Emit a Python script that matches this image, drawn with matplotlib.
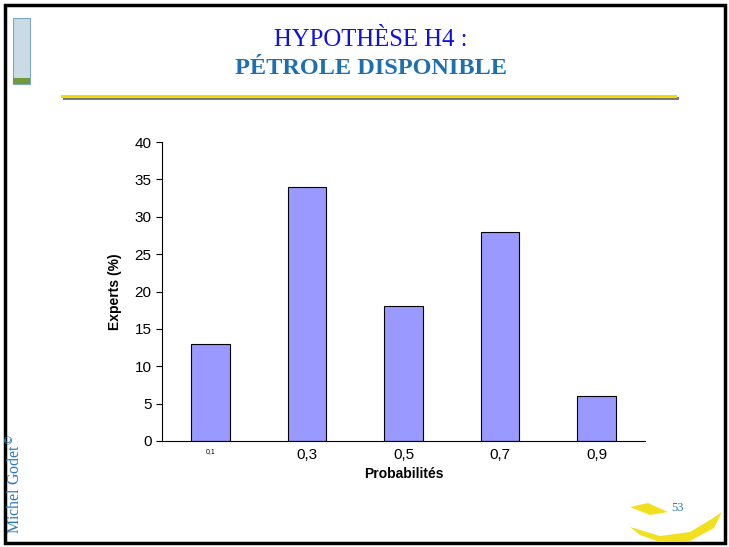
import matplotlib
matplotlib.use("Agg")
import matplotlib.pyplot as plt
from matplotlib.patches import Rectangle, Polygon

# donnees
categories = ["0,1", "0,3", "0,5", "0,7", "0,9"]
experts = [13, 34, 18, 28, 6]
yticks = [0, 5, 10, 15, 20, 25, 30, 35, 40]

W, H = 729, 547
fig = plt.figure(figsize=(W / 100, H / 100), dpi=100)

def fx(px):
    return px / W

def fy(py):
    return 1 - py / H

# cadre de la diapo
fig.add_artist(Rectangle((fx(5), fy(543)), fx(720), 538 / H, fill=False,
                         edgecolor="black", linewidth=2.5, transform=fig.transFigure))

# logo en haut a gauche
fig.add_artist(Rectangle((fx(13), fy(84)), fx(17), 66 / H, facecolor="#c9dbe6",
                         edgecolor="#7fa7bf", linewidth=0.8, transform=fig.transFigure))
fig.add_artist(Rectangle((fx(13), fy(84)), fx(17), 6 / H, facecolor="#6f9a3a",
                         edgecolor="none", transform=fig.transFigure))

# titre
fig.text(fx(371), fy(40), "HYPOTHÈSE H4 :", ha="center", va="center",
         family="Liberation Serif", fontsize=17.8, color="#1010e0")
fig.text(fx(371), fy(68), "PÉTROLE DISPONIBLE", ha="center", va="center",
         family="Liberation Serif", fontsize=17.5, fontweight="bold", color="#1f6fb0")

# ligne jaune sous le titre
fig.add_artist(Rectangle((fx(63), fy(100)), fx(616), 3 / H, facecolor="#7a7a7a",
                         edgecolor="none", transform=fig.transFigure))
fig.add_artist(Rectangle((fx(61), fy(98)), fx(616), 3 / H, facecolor="#f5d800",
                         edgecolor="none", transform=fig.transFigure))

# signature
fig.text(fx(14), fy(484), "Michel Godet$^{\\copyright}$", rotation=90, ha="center",
         va="center", family="Liberation Serif", fontsize=11.5, color="#2a7ab8")

# croissant jaune et numero de page
fig.add_artist(Polygon([(fx(630), fy(507)), (fx(648), fy(503)), (fx(668), fy(512)),
                        (fx(650), fy(515))], closed=True, facecolor="#f2e020",
                       edgecolor="none", transform=fig.transFigure))
fig.add_artist(Polygon([(fx(630), fy(527)), (fx(660), fy(536)), (fx(690), fy(532)),
                        (fx(710), fy(520)), (fx(722), fy(512)), (fx(714), fy(528)),
                        (fx(690), fy(541)), (fx(660), fy(542)), (fx(640), fy(535))],
                       closed=True, facecolor="#f2e020", edgecolor="none",
                       transform=fig.transFigure))
fig.text(fx(678), fy(508), "53", ha="center", va="center", family="Liberation Serif",
         fontsize=9, color="#2a7ab8")

# graphique
ax = fig.add_axes([fx(162), fy(441), 483 / W, 299 / H])
x = list(range(len(categories)))
ax.bar(x, experts, width=0.4, color="#9999ff", edgecolor="black", linewidth=0.8)
ax.set_xlim(-0.5, 4.5)
ax.set_ylim(0, 40)
ax.set_yticks(yticks)
ax.set_xticks(x)
ax.set_xticklabels(categories)
for lab in ax.get_xticklabels():
    lab.set_fontsize(11)
ax.get_xticklabels()[0].set_fontsize(5)
ax.tick_params(axis="y", direction="out", length=4, labelsize=11, width=0.8)
ax.tick_params(axis="x", length=0, pad=5)
for lab in ax.get_xticklabels() + ax.get_yticklabels():
    lab.set_family("Liberation Sans")
ax.spines["top"].set_visible(False)
ax.spines["right"].set_visible(False)
ax.spines["left"].set_linewidth(0.8)
ax.spines["bottom"].set_linewidth(0.8)
ax.set_ylabel("Experts (%)", family="Liberation Sans", fontweight="bold",
              fontsize=10, labelpad=9)
ax.set_xlabel("Probabilités", family="Liberation Sans", fontweight="bold",
              fontsize=10, labelpad=4)

fig.savefig("out.png", dpi=100)
